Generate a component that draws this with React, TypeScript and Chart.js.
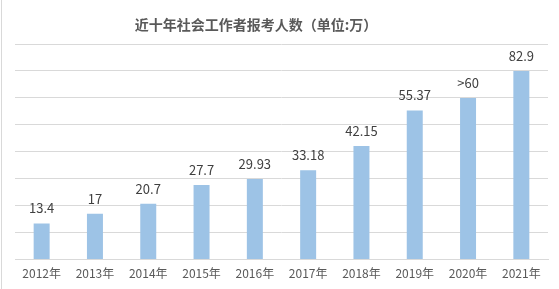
import React, { useEffect, useRef } from "react";
import { Chart, registerables } from "chart.js";

Chart.register(...registerables);

const title = "近十年社会工作者报考人数（单位:万）";
const categories = ["2012年", "2013年", "2014年", "2015年", "2016年", "2017年", "2018年", "2019年", "2020年", "2021年"];
// bar heights as drawn in the picture
const barValues = [13.4, 17, 20.7, 27.7, 29.93, 33.18, 42.15, 55.37, 60, 70];
// label texts shown above the bars
const barLabels = ["13.4", "17", "20.7", "27.7", "29.93", "33.18", "42.15", "55.37", ">60", "82.9"];

const FONT = "'Noto Sans CJK SC', 'Noto Sans', sans-serif";

export default function App() {
  const ref = useRef<HTMLCanvasElement | null>(null);

  useEffect(() => {
    if (!ref.current) return;
    const labelPlugin = {
      id: "barLabels",
      afterDatasetsDraw(chart: any) {
        const ctx = chart.ctx;
        const meta = chart.getDatasetMeta(0);
        ctx.save();
        ctx.font = `13px ${FONT}`;
        ctx.fillStyle = "#404040";
        ctx.textAlign = "center";
        ctx.textBaseline = "alphabetic";
        meta.data.forEach((el: any, i: number) => {
          ctx.fillText(barLabels[i], el.x, el.y - 10);
        });
        ctx.restore();
      },
    };
    const titlePlugin = {
      id: "customTitle",
      afterDraw(chart: any) {
        const ctx = chart.ctx;
        ctx.save();
        ctx.font = `bold 14px ${FONT}`;
        ctx.fillStyle = "#595959";
        ctx.textAlign = "center";
        ctx.textBaseline = "middle";
        ctx.fillText(title, 256, 25);
        ctx.restore();
      },
    };
    const chart = new Chart(ref.current, {
      type: "bar",
      data: {
        labels: categories,
        datasets: [
          {
            data: barValues,
            backgroundColor: "#9DC3E6",
            barPercentage: 0.3,
            categoryPercentage: 1,
          },
        ],
      },
      options: {
        responsive: false,
        animation: false,
        layout: { padding: { left: 15, right: 11, top: 44, bottom: 1 } },
        plugins: {
          legend: { display: false },
          title: { display: false },
          tooltip: { enabled: false },
        },
        scales: {
          x: {
            grid: { display: false, drawTicks: false },
            border: { display: true, color: "#d9d9d9", width: 1 },
            ticks: {
              color: "#595959",
              font: { family: FONT, size: 12 },
              padding: 7,
              maxRotation: 0,
              autoSkip: false,
            },
          },
          y: {
            min: 0,
            max: 80,
            ticks: { display: false, stepSize: 10 },
            grid: { color: "#d9d9d9", drawTicks: false },
            border: { display: false },
          },
        },
      },
      plugins: [labelPlugin, titlePlugin],
    });
    return () => chart.destroy();
  }, []);

  return (
    <div style={{ position: "fixed", left: 0, top: 0, width: 559, height: 289, background: "#fff" }}>
      <div style={{ position: "absolute", left: 1, top: 0, width: 1, height: 289, background: "#d9d9d9" }} />
      <canvas ref={ref} width={559} height={289} style={{ position: "absolute", left: 0, top: 0 }} />
    </div>
  );
}
